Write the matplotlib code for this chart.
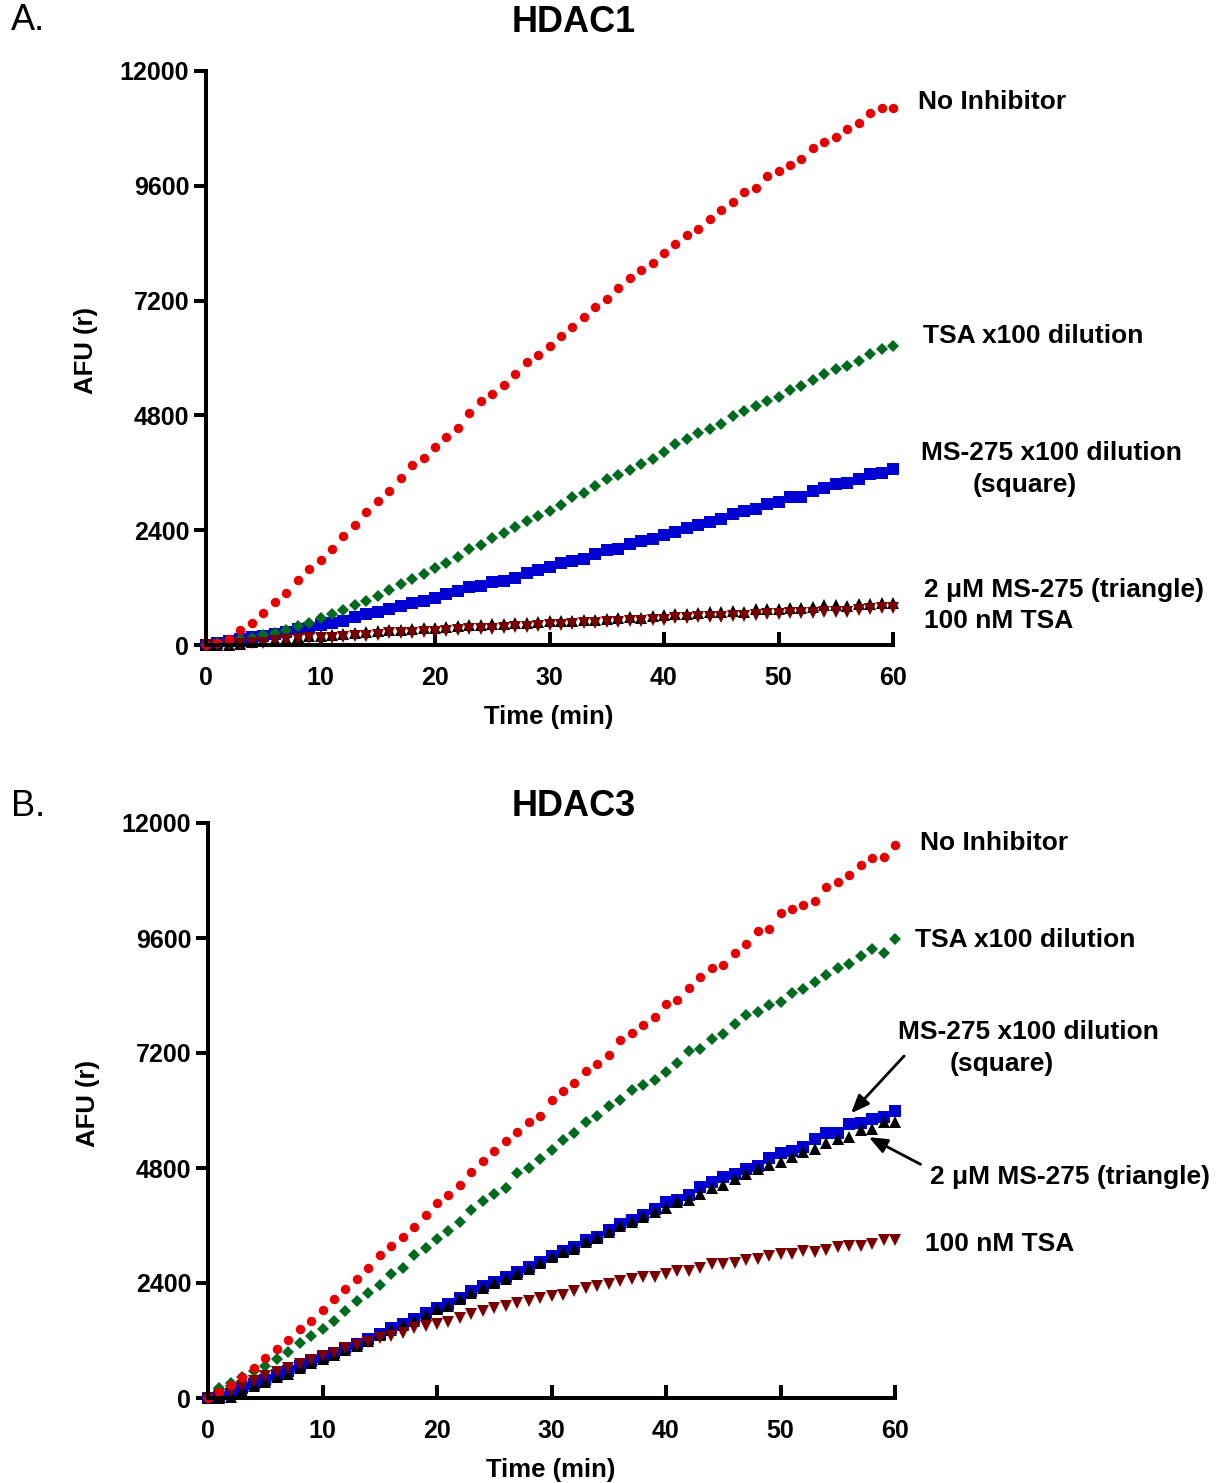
import numpy as np
import matplotlib
matplotlib.use('Agg')
import matplotlib.pyplot as plt

plt.rcParams['font.family'] = ['Liberation Sans', 'DejaVu Sans']

time_min = list(range(0, 61))

# HDAC1 (panel A)
a_none = [0, 35, 125, 315, 470, 665, 890, 1090, 1350, 1595, 1786,
          2015, 2282, 2503, 2778, 3014, 3211, 3494, 3754, 3904, 4147,
          4352, 4541, 4848, 5100, 5257, 5438, 5666, 5918, 6068, 6257,
          6469, 6642, 6847, 7075, 7240, 7461, 7665, 7839, 7988, 8200,
          8374, 8578, 8688, 8909, 9090, 9255, 9475, 9562, 9798, 9908,
          10026, 10168, 10388, 10506, 10616, 10797, 10915, 11112, 11230, 11230]
a_tsa_dil = [0, 40, 80, 118, 150, 215, 250, 315, 405, 465, 555,
             650, 728, 840, 928, 1030, 1150, 1275, 1375, 1490, 1608,
             1712, 1834, 2007, 2101, 2227, 2337, 2463, 2597, 2692, 2810,
             2928, 3085, 3172, 3321, 3463, 3557, 3667, 3793, 3896, 4037,
             4195, 4305, 4423, 4525, 4620, 4785, 4895, 4997, 5092, 5194,
             5328, 5422, 5548, 5659, 5761, 5824, 5942, 6076, 6186, 6257]
a_ms_dil = [0, 35, 84, 118, 160, 188, 230, 278, 327, 362, 418,
            467, 508, 578, 648, 697, 746, 815, 871, 926, 989,
            1059, 1129, 1219, 1233, 1322, 1346, 1409, 1503, 1574, 1629,
            1716, 1747, 1802, 1905, 1991, 2007, 2109, 2164, 2219, 2290,
            2353, 2448, 2503, 2566, 2644, 2739, 2802, 2849, 2943, 2998,
            3085, 3101, 3211, 3290, 3360, 3392, 3479, 3573, 3604, 3675]
a_ms_2um = [0, 0, 10, 30, 60, 80, 105, 130, 160, 180, 190,
            210, 230, 250, 265, 290, 305, 320, 340, 355, 360,
            380, 400, 410, 418, 430, 445, 455, 470, 480, 495,
            500, 510, 520, 530, 536, 557, 585, 571, 606, 620,
            641, 641, 662, 690, 690, 711, 697, 746, 759, 759,
            780, 780, 794, 836, 836, 815, 850, 850, 871, 885]
a_tsa_100nm = [0, 0, 0, 21, 49, 49, 91, 104, 118, 153, 139,
               153, 160, 188, 188, 209, 243, 243, 257, 278, 278,
               299, 313, 327, 327, 340, 355, 370, 385, 395, 410,
               420, 435, 450, 460, 474, 488, 502, 509, 523, 523,
               557, 557, 578, 578, 592, 606, 606, 627, 641, 641,
               662, 662, 676, 697, 697, 697, 732, 746, 766, 766]

# HDAC3 (panel B)
b_none = [0, 120, 280, 441, 622, 834, 1023, 1212, 1448, 1605, 1842,
          2070, 2282, 2487, 2707, 2975, 3172, 3368, 3573, 3809, 4061,
          4234, 4454, 4722, 4950, 5163, 5359, 5556, 5769, 5895, 6225,
          6406, 6579, 6831, 6973, 7154, 7469, 7626, 7783, 7957, 8216,
          8311, 8555, 8783, 8980, 9027, 9295, 9483, 9751, 9782, 10121,
          10207, 10294, 10380, 10672, 10766, 10924, 11120, 11278, 11286, 11537]
b_tsa_dil = [0, 200, 310, 430, 560, 660, 805, 968, 1149, 1290, 1450,
             1605, 1826, 2015, 2188, 2361, 2581, 2723, 2975, 3132, 3313,
             3494, 3667, 3927, 4116, 4258, 4391, 4691, 4809, 4982, 5178,
             5375, 5533, 5753, 5895, 6091, 6225, 6422, 6524, 6642, 6800,
             6996, 7232, 7288, 7484, 7587, 7799, 7996, 8051, 8193, 8271,
             8445, 8531, 8688, 8838, 8972, 9058, 9216, 9373, 9294, 9586]
b_ms_dil = [0, 15, 77, 202, 292, 376, 480, 570, 668, 772, 849,
            935, 1040, 1125, 1235, 1340, 1455, 1550, 1645, 1770, 1885,
            1960, 2095, 2240, 2335, 2430, 2525, 2625, 2730, 2840, 2959,
            3061, 3156, 3290, 3368, 3510, 3628, 3707, 3825, 3943, 4100,
            4140, 4242, 4399, 4517, 4612, 4675, 4785, 4832, 5005, 5116,
            5147, 5241, 5399, 5533, 5533, 5714, 5729, 5832, 5855, 5989]
b_ms_2um = [0, 0, 28, 153, 250, 341, 432, 501, 619, 723, 807,
            900, 1000, 1090, 1200, 1305, 1420, 1520, 1610, 1730, 1850,
            1930, 2060, 2200, 2300, 2400, 2490, 2590, 2700, 2810, 2935,
            3038, 3117, 3258, 3337, 3455, 3589, 3683, 3785, 3880, 3966,
            4085, 4124, 4258, 4376, 4454, 4572, 4667, 4785, 4864, 4927,
            5021, 5124, 5187, 5320, 5399, 5454, 5596, 5619, 5769, 5769]
b_tsa_100nm = [0, 63, 153, 250, 362, 459, 550, 619, 710, 793, 877,
               946, 1037, 1106, 1176, 1245, 1294, 1364, 1454, 1503, 1545,
               1593, 1663, 1753, 1823, 1881, 1912, 1975, 2030, 2078, 2133,
               2156, 2235, 2290, 2330, 2369, 2448, 2487, 2526, 2526, 2581,
               2644, 2660, 2707, 2802, 2802, 2825, 2880, 2904, 2959, 2998,
               2998, 3061, 3053, 3093, 3156, 3172, 3172, 3219, 3290, 3298]

y_ticks = [0, 2400, 4800, 7200, 9600, 12000]
x_ticks = [0, 10, 20, 30, 40, 50, 60]

c_red = '#e60000'
c_green = '#006b1f'
c_blue = '#0000d2'
c_black = '#000000'
c_dred = '#7a0000'

fig = plt.figure(figsize=(12.22, 14.83), dpi=100)
W, H = 1222.0, 1483.0
ax_a = fig.add_axes([206/W, 1-645/H, 687/W, 574/H])
ax_b = fig.add_axes([208/W, 1-1398/H, 687/W, 575/H])


def draw_panel(ax, none, tsa_dil, ms_dil, ms_2um, tsa_100):
    kw = dict(linestyle='none', markeredgewidth=0, clip_on=False)
    ax.plot(time_min, ms_dil, 's', color=c_blue, markersize=8.4, zorder=3, **kw)
    ax.plot(time_min, ms_2um, '^', color=c_black, markersize=8.6, zorder=4, **kw)
    ax.plot(time_min, tsa_dil, 'D', color=c_green, markersize=6.2, zorder=5, **kw)
    ax.plot(time_min, tsa_100, 'v', color=c_dred, markersize=9.0, zorder=6, **kw)
    ax.plot(time_min, none, 'o', color=c_red, markersize=6.8, zorder=7, **kw)
    ax.set_xlim(0, 60)
    ax.set_ylim(0, 12000)
    ax.set_xticks(x_ticks)
    ax.set_yticks(y_ticks)
    for s in ['top', 'right']:
        ax.spines[s].set_visible(False)
    for s in ['left', 'bottom']:
        ax.spines[s].set_linewidth(2.9)
        ax.spines[s].set_zorder(10)
    ax.tick_params(axis='x', direction='in', length=9.5, width=2.9, pad=15, labelsize=18)
    ax.tick_params(axis='y', direction='out', length=9, width=2.9, pad=3, labelsize=18)
    for lab in ax.get_xticklabels() + ax.get_yticklabels():
        lab.set_fontweight('bold')
    ax.set_xlabel('Time (min)', fontsize=18.5, fontweight='bold')
    ax.set_ylabel('AFU (r)', fontsize=18.5, fontweight='bold')
    ax.xaxis.set_label_coords(0.4993, -0.104)
    ax.yaxis.set_label_coords(-0.157, 0.513)


draw_panel(ax_a, a_none, a_tsa_dil, a_ms_dil, a_ms_2um, a_tsa_100nm)
draw_panel(ax_b, b_none, b_tsa_dil, b_ms_dil, b_ms_2um, b_tsa_100nm)

lab_kw = dict(fontsize=19, fontweight='bold', va='center', clip_on=False)

# panel A labels
ax_a.text(62.2, 11350, 'No Inhibitor', **lab_kw)
ax_a.text(62.6, 6458, 'TSA x100 dilution', **lab_kw)
ax_a.text(62.45, 4013, 'MS-275 x100 dilution', **lab_kw)
ax_a.text(71.5, 3344, '(square)', ha='center', **lab_kw)
ax_a.text(62.7, 1150, '2 μM MS-275 (triangle)', **lab_kw)
ax_a.text(62.7, 502, '100 nM TSA', **lab_kw)

# panel B labels
ax_b.text(62.2, 11583, 'No Inhibitor', **lab_kw)
ax_b.text(61.75, 9558, 'TSA x100 dilution', **lab_kw)
ax_b.text(60.26, 7638, 'MS-275 x100 dilution', **lab_kw)
ax_b.text(69.3, 6971, '(square)', ha='center', **lab_kw)
ax_b.text(63.06, 4612, '2 μM MS-275 (triangle)', **lab_kw)
ax_b.text(62.6, 3214, '100 nM TSA', **lab_kw)

arrow_kw = dict(arrowstyle='-|>,head_length=1.1,head_width=0.45', color='black', lw=2.0)
ax_b.annotate('', xy=(56.0, 5900), xytext=(60.96, 7180),
              arrowprops=arrow_kw, annotation_clip=False)
ax_b.annotate('', xy=(57.5, 5470), xytext=(62.45, 4850),
              arrowprops=arrow_kw, annotation_clip=False)

# titles and panel letters
fig.text(574/W, 1-23/H, 'HDAC1', fontsize=26, fontweight='bold', ha='center', va='center')
fig.text(574/W, 1-806/H, 'HDAC3', fontsize=26, fontweight='bold', ha='center', va='center')
fig.text(11/W, 1-20/H, 'A.', fontsize=26, ha='left', va='center')
fig.text(11/W, 1-806/H, 'B.', fontsize=26, ha='left', va='center')

fig.savefig('out.png', dpi=100)
